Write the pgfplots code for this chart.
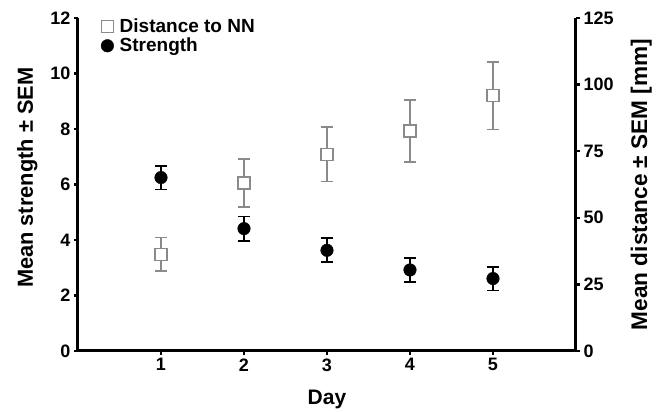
\documentclass[border=0pt]{standalone}
\usepackage{pgfplots}
\pgfplotsset{compat=1.18}
\usepackage{fontspec}
\setmainfont{Liberation Sans}
\definecolor{distgray}{HTML}{8A8A8A}

\begin{document}
\begin{tikzpicture}[x=1pt,y=1pt]
\pgfplotsset{
  every axis/.append style={
    scale only axis, width=498pt, height=333pt,
    xmin=0, xmax=6,
    axis line style={line width=3pt},
    tick style={line width=2.5pt, black},
    major tick length=4pt,
    tick align=outside,
    tick label style={font=\fontsize{18}{18}\selectfont\bfseries},
    /pgf/number format/assume math mode=true,
  }
}

\begin{axis}[
  axis x line*=bottom, axis y line*=left,
  ymin=0, ymax=12, ytick={0,2,...,12},
  xtick={1,...,5},
  xlabel={Day}, ylabel={Mean strength ± SEM},
  xlabel style={at={(axis description cs:0.5,-0.147)}, anchor=center,
    font=\fontsize{21}{21}\selectfont\bfseries},
  ylabel style={at={(axis description cs:-0.102,0.52)}, anchor=center, rotate=0,
    font=\fontsize{21.8}{22}\selectfont\bfseries},
  legend style={at={(0.04,1.01)}, anchor=north west, draw=none, fill=none,
    font=\fontsize{19}{19}\selectfont\bfseries, row sep=0pt, column sep=4pt},
  legend cell align=left,
]
\addlegendimage{only marks, mark=square*, mark size=6pt, distgray,
  mark options={fill=white, line width=1.3pt}}
\addlegendentry{Distance to NN}
\addplot[only marks, mark=*, mark size=6.3pt, black,
  error bars/.cd, y dir=both, y explicit,
  error bar style={line width=1.8pt, black},
  error mark options={rotate=90, mark size=6pt, line width=1.8pt, black}]
  coordinates {
  (1,6.25) +- (0,0.43)
  (2,4.41) +- (0,0.44)
  (3,3.63) +- (0,0.43)
  (4,2.92) +- (0,0.43)
  (5,2.61) +- (0,0.43)
  };
\addlegendentry{Strength}
\end{axis}

\begin{axis}[
  axis x line=none, axis y line*=right,
  ymin=0, ymax=125, ytick={0,25,...,125},
  ylabel={Mean distance ± SEM [mm]},
  ylabel style={at={(axis description cs:1.131,0.50)}, anchor=center, rotate=0,
    font=\fontsize{22.6}{23}\selectfont\bfseries},
]
\addplot[only marks, mark=square*, mark size=6pt, distgray,
  mark options={fill=white, line width=1.3pt},
  error bars/.cd, y dir=both, y explicit,
  error bar style={line width=1.5pt, distgray},
  error mark options={rotate=90, mark size=6pt, line width=1.5pt, distgray}]
  coordinates {
  (1,36.3) +- (0,6.3)
  (2,63.1) +- (0,9.0)
  (3,73.8) +- (0,10.2)
  (4,82.6) +- (0,11.7)
  (5,95.8) +- (0,12.7)
  };
\end{axis}

\pgfresetboundingbox
\path (-78,-61) rectangle (584,351);
\end{tikzpicture}
\end{document}
